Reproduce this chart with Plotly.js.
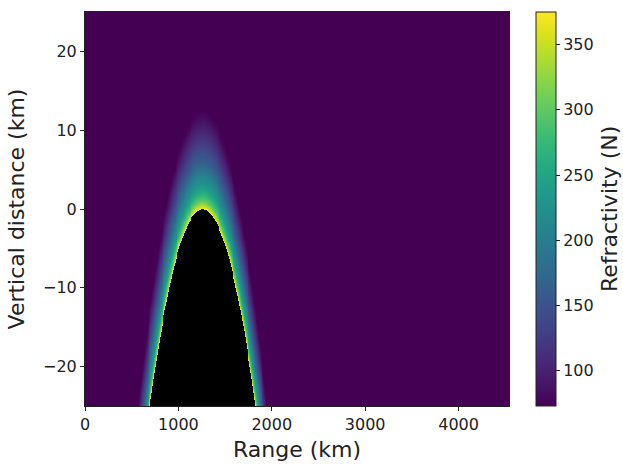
<!DOCTYPE html>
<html>
<head>
<meta charset="utf-8">
<script src="https://cdn.plot.ly/plotly-3.0.1.min.js"></script>
<style>html,body{margin:0;padding:0;background:#fff;}#chart{width:623px;height:464px;}</style>
</head>
<body>
<div id="chart"></div>
<script>
// Earth surface height (km) read from the black region, sampled along range (km)
const surfaceRangeKm = [500,550,600,650,700,750,800,850,900,950,1000,1050,1100,1150,1200,1250,1300,1350,1400,1450,1500,1550,1600,1650,1700,1750,1800,1850,1900,1950,2000,2050];
const surfaceHeightKm = [-45.3,-39.6,-34.2,-29.2,-24.6,-20.4,-16.6,-13.2,-10.2,-7.5,-5.3,-3.5,-2.0,-0.95,-0.28,-0.01,-0.13,-0.64,-1.54,-2.83,-4.5,-6.6,-9.1,-11.9,-15.2,-18.8,-22.9,-27.3,-32.1,-37.4,-43.0,-49.0];
const profileHeightKm = [0,0.3,1,2,3,4.5,6,7.5,9,10.5,11.5,12.5];
const profileN = [375,350,300,260,230,200,165,140,115,95,82,73];
const backgroundN = 73;
const xTickVals = [0,1000,2000,3000,4000];
const yTickVals = [-20,-10,0,10,20];
const cbTickVals = [100,150,200,250,300,350];
const xExtent = [0,4540];
const yExtent = [-25,25];

function lerp(xa, ya, x){
  if (x <= xa[0]) return ya[0];
  if (x >= xa[xa.length-1]) return ya[ya.length-1];
  for (let i=1;i<xa.length;i++){
    if (x <= xa[i]){
      const t=(x-xa[i-1])/(xa[i]-xa[i-1]);
      return ya[i-1]+t*(ya[i]-ya[i-1]);
    }
  }
  return ya[ya.length-1];
}

const dx = 10, dy = 0.125;
const xs = [], ys = [];
for (let x = xExtent[0] + dx/2; x < xExtent[1]; x += dx) xs.push(x);
for (let y = yExtent[0] + dy/2; y < yExtent[1]; y += dy) ys.push(y);
const z = ys.map(y => xs.map(x => {
  if (x < surfaceRangeKm[0] || x > surfaceRangeKm[surfaceRangeKm.length-1]) return backgroundN;
  const hs = lerp(surfaceRangeKm, surfaceHeightKm, x);
  const h = y - hs;
  if (h < 0) return null;
  if (h > profileHeightKm[profileHeightKm.length-1]) return backgroundN;
  return lerp(profileHeightKm, profileN, h);
}));

const txt = '#222';
const tickFont = {family: 'DejaVu Sans', size: 16, color: txt};
const titleFont = {family: 'DejaVu Sans', size: 22, color: txt};
const trace = {
  type: 'heatmap', x: xs, y: ys, z: z,
  colorscale: 'Viridis', zmin: 73, zmax: 375,
  hoverinfo: 'skip',
  colorbar: {
    x: 1.064, xanchor: 'left', xpad: 0, y: 0.5, yanchor: 'middle', ypad: 0,
    len: 1, thickness: 20, outlinewidth: 1, outlinecolor: txt,
    tickvals: cbTickVals, ticks: 'outside', ticklen: 4, tickcolor: txt,
    tickfont: tickFont
  }
};
const axisCommon = {
  showgrid: false, zeroline: false, showline: true, mirror: true,
  linecolor: txt, linewidth: 1, ticks: 'outside', ticklen: 4, tickcolor: txt,
  tickfont: tickFont
};
const layout = {
  width: 623, height: 464,
  margin: {l: 85, r: 114, t: 12, b: 58},
  paper_bgcolor: '#fff', plot_bgcolor: '#000',
  font: {family: 'DejaVu Sans', color: txt},
  xaxis: Object.assign({}, axisCommon, {range: xExtent, tickvals: xTickVals,
    title: {text: 'Range (km)', font: titleFont, standoff: 8}}),
  yaxis: Object.assign({}, axisCommon, {range: yExtent, tickvals: yTickVals,
    title: {text: 'Vertical distance (km)', font: titleFont, standoff: 12}}),
  annotations: [{
    text: 'Refractivity (N)', textangle: -90, font: titleFont, showarrow: false,
    xref: 'paper', yref: 'paper', x: 1.236, y: 0.5, xanchor: 'center', yanchor: 'middle'
  }]
};
Plotly.newPlot('chart', [trace], layout, {displayModeBar: false, staticPlot: true});
</script>
</body>
</html>
